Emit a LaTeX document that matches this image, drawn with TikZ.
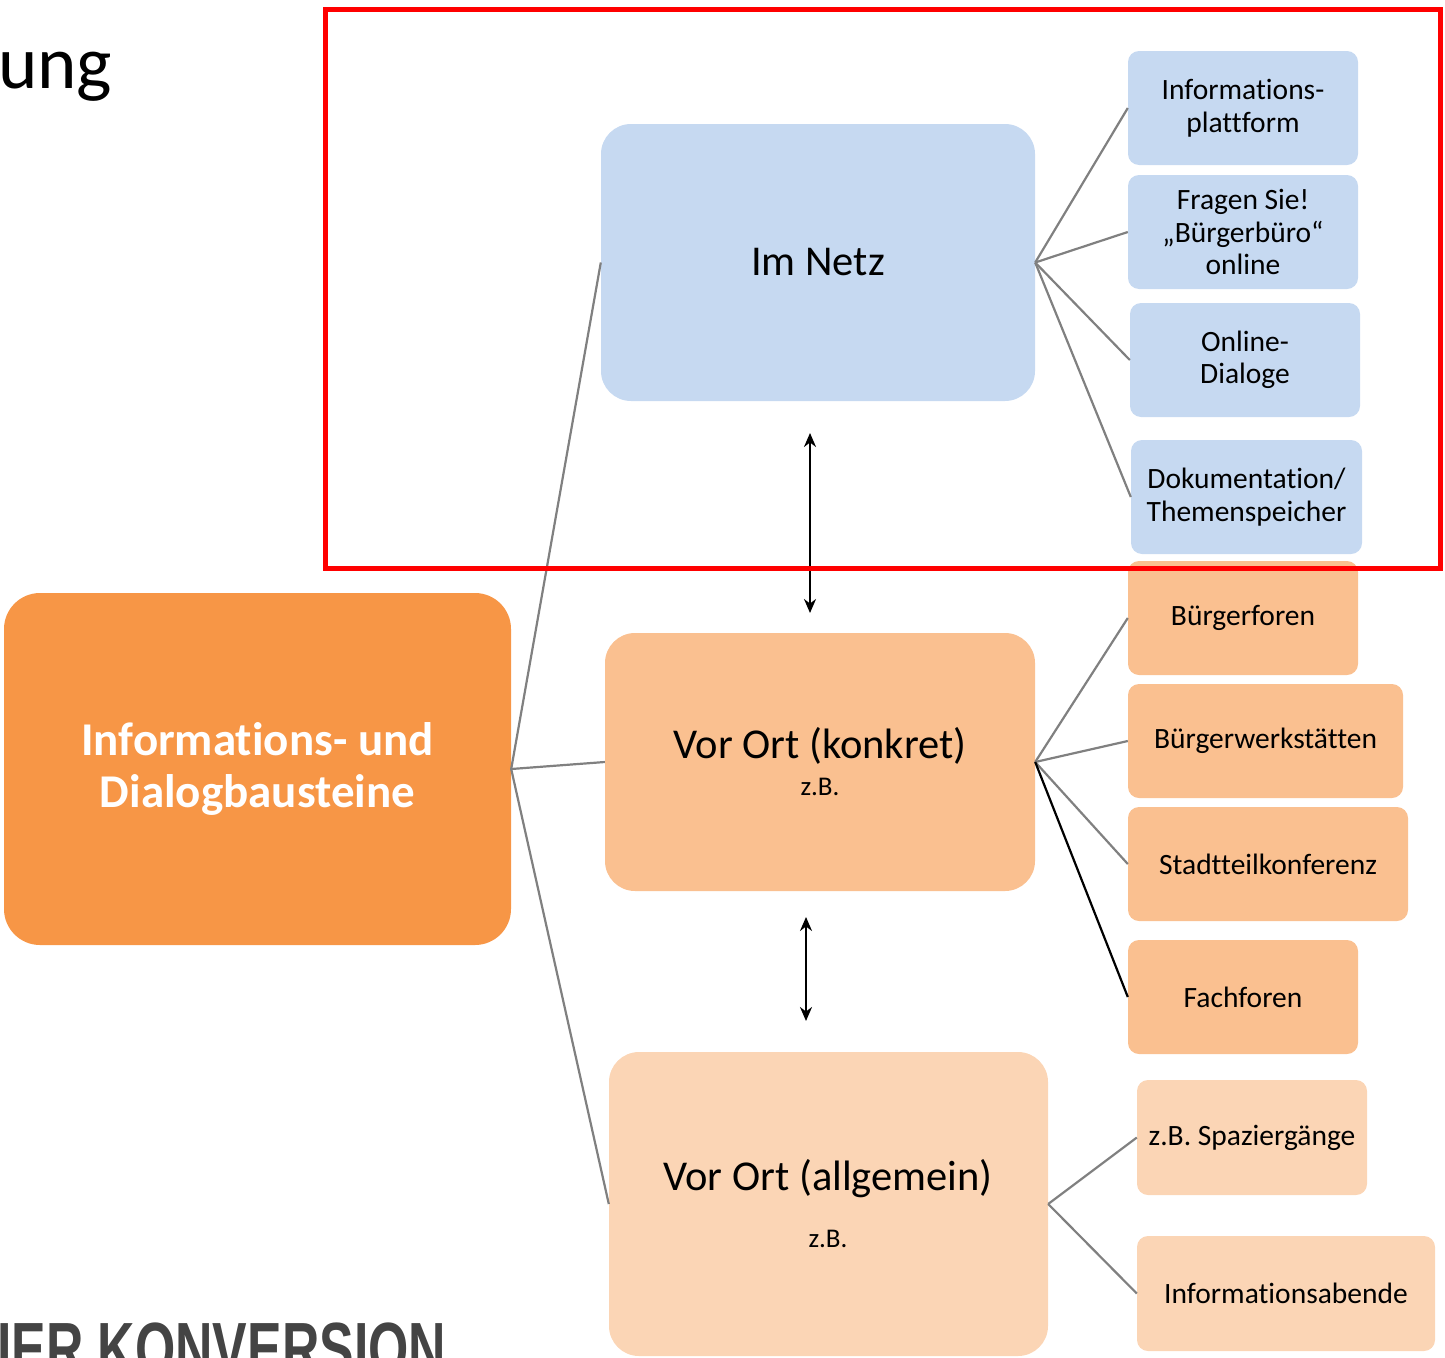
\documentclass[tikz,border=0pt]{standalone}
\usepackage{fontspec}
\setmainfont{Carlito}[Ligatures=NoCommon]
\newfontfamily\libsans{Liberation Sans}
\usetikzlibrary{arrows.meta}
\definecolor{netzblue}{HTML}{C6D9F1}
\definecolor{mainorange}{HTML}{F79646}
\definecolor{midorange}{HTML}{FAC090}
\definecolor{lightorange}{HTML}{FBD5B5}
\definecolor{linegray}{HTML}{808080}
\definecolor{titlegray}{HTML}{444444}
\tikzset{
  bigbox/.style={rectangle, rounded corners=30pt, inner sep=0pt, align=center},
  smallbox/.style={rectangle, rounded corners=11pt, inner sep=0pt, align=center,
    font=\fontsize{29.5}{32.5}\selectfont},
  conn/.style={draw=linegray, line width=2.2pt},
  darkconn/.style={draw=black, line width=2.2pt},
  dblarrow/.style={draw=black, line width=2.2pt, {Stealth[length=14pt,width=12pt]}-{Stealth[length=14pt,width=12pt]}},
  bigtext/.style={inner sep=0pt, font=\fontsize{42.5}{50}\selectfont},
  zbtext/.style={inner sep=0pt, font=\fontsize{27}{30}\selectfont},
}
\begin{document}
\begin{tikzpicture}[x=1pt,y=-1pt]
\useasboundingbox (0,0) rectangle (1445,1357);
\clip (0,0) rectangle (1445,1357);

% headline fragments
\node[anchor=base west, inner sep=0pt, font=\fontsize{75}{85}\selectfont] (ung) at (-2,88) {ung};
\node[anchor=base west, inner sep=0pt, text=titlegray, font=\libsans\bfseries\fontsize{74}{74}\selectfont] (konv) at (-3,1374) {\scalebox{0.70}[1]{IER KONVERSION}};

% main boxes
\node[bigbox, rounded corners=36pt, fill=mainorange, minimum width=507pt, minimum height=352pt,
  text=white, font=\bfseries\fontsize{47}{52}\selectfont] (main) at (257.5,769) {Informations- und\\Dialogbausteine};
\node[bigbox, fill=netzblue, minimum width=434pt, minimum height=277pt, font=\fontsize{42.5}{50}\selectfont] (netz) at (818,262.5) {Im Netz};
\node[bigbox, fill=midorange, minimum width=430pt, minimum height=258pt] (konkret) at (820,762) {};
\node[bigbox, fill=lightorange, minimum width=439pt, minimum height=304pt] (allg) at (828.5,1204) {};
\node[bigtext] (konkretT) at (820,746) {Vor Ort (konkret)};
\node[zbtext] (konkretZ) at (820,787) {z.B.};
\node[bigtext] (allgT) at (828,1179) {Vor Ort (allgemein)};
\node[zbtext] (allgZ) at (828,1239) {z.B.};

% small boxes
\node[smallbox, fill=netzblue, minimum width=230pt, minimum height=114pt] (b1) at (1243,108) {Informations-\\plattform};
\node[smallbox, fill=netzblue, minimum width=230pt, minimum height=114pt] (b2) at (1243,232) {Fragen Sie!\\„Bürgerbüro“\\online};
\node[smallbox, fill=netzblue, minimum width=230pt, minimum height=114pt] (b3) at (1245,360) {Online-\\Dialoge};
\node[smallbox, fill=netzblue, minimum width=231pt, minimum height=114pt] (b4) at (1246.5,497) {Dokumentation/\\Themenspeicher};

\node[smallbox, fill=midorange, minimum width=230pt, minimum height=114pt] (o1) at (1243,618) {Bürgerforen};
\node[smallbox, fill=midorange, minimum width=275pt, minimum height=114pt] (o2) at (1265.5,741) {Bürgerwerkstätten};
\node[smallbox, fill=midorange, minimum width=280pt, minimum height=114pt] (o3) at (1268,864) {Stadtteilkonferenz};
\node[smallbox, fill=midorange, minimum width=230pt, minimum height=114pt] (o4) at (1243,997) {Fachforen};

\node[smallbox, fill=lightorange, minimum width=230pt, minimum height=115pt] (p1) at (1252,1137.5) {z.B. Spaziergänge};
\node[smallbox, fill=lightorange, minimum width=298pt, minimum height=115pt] (p2) at (1286,1293.5) {Informationsabende};

% connectors
\draw[conn] (main.east) -- (netz.west);
\draw[conn] (main.east) -- (konkret.west);
\draw[conn] (main.east) -- (allg.west);
\foreach \b in {b1,b2,b3,b4} \draw[conn] (netz.east) -- (\b.west);
\foreach \b in {o1,o2,o3} \draw[conn] (konkret.east) -- (\b.west);
\draw[darkconn] (konkret.east) -- (o4.west);
\foreach \b in {p1,p2} \draw[conn] (allg.east) -- (\b.west);

% double arrows
\coordinate (a1t) at (810,433);
\coordinate (a1b) at (810,613);
\coordinate (a2t) at (806,917);
\coordinate (a2b) at (806,1021);
\draw[dblarrow] (a1t) -- (a1b);
\draw[dblarrow] (a2t) -- (a2b);

% red highlight frame
\draw[red, line width=5pt] (325.5,9.5) rectangle (1440.5,568.5);
\end{tikzpicture}
\end{document}
